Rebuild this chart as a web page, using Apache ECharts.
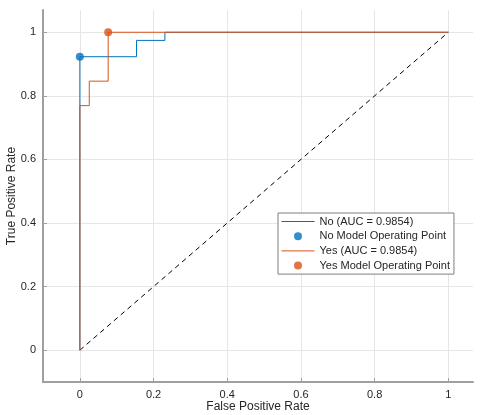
<!DOCTYPE html>
<html>
<head>
<meta charset="utf-8">
<script src="https://cdn.jsdelivr.net/npm/echarts@6/dist/echarts.min.js"></script>
<style>
  html, body { margin: 0; padding: 0; background: #fff; }
  #chart { width: 484px; height: 415px; }
</style>
</head>
<body>
<div id="chart"></div>
<script>
// ROC curve data (step points)
const noCurve = [[0, 0], [0, 0.9231], [0.1538, 0.9231], [0.1538, 0.9744], [0.2308, 0.9744], [0.2308, 1], [1, 1]];
const yesCurve = [[0, 0], [0, 0.7692], [0.0256, 0.7692], [0.0256, 0.8462], [0.0769, 0.8462], [0.0769, 1], [1, 1]];
const noPoint = [[0, 0.9231]];
const yesPoint = [[0.0769, 1]];
const chance = [[0, 0], [1, 1]];
const ticks = [0, 0.2, 0.4, 0.6, 0.8, 1];
const names = ['No (AUC = 0.9854)', 'No Model Operating Point', 'Yes (AUC = 0.9854)', 'Yes Model Operating Point'];

const BLUE = '#0072BD', ORANGE = '#D95319', TXT = '#262626';
const FONT = 'Liberation Sans, Arial, sans-serif';
const tickFmt = (v) => (Math.abs(v) < 1e-9 ? '0' : String(+v.toFixed(1)));
// stroked horizontal line for the legend (tiny corner segments keep the 33x8 box)
const LINE_ICON = 'path://M0,0L0.01,0M0,4L33,4M33,8L32.99,8';

const chart = echarts.init(document.getElementById('chart'), null, { renderer: 'canvas' });

function axis(name, extra) {
  return Object.assign({
    type: 'value', name, nameLocation: 'middle', nameMoveOverlap: false,
    nameTextStyle: { color: TXT, fontSize: 12, fontFamily: FONT },
    axisLine: { show: true, onZero: false, lineStyle: { color: '#a0a0a0', width: 2 } },
    axisTick: { show: true, inside: true, length: 4, customValues: ticks, lineStyle: { color: '#a0a0a0' } },
    axisLabel: { customValues: ticks, color: TXT, fontSize: 11, fontFamily: FONT, formatter: tickFmt, margin: 7 },
    splitLine: { show: true, lineStyle: { color: '#e6e6e6', width: 1 } },
  }, extra);
}

const lineItem = (name, c) =>
  ({ name, icon: LINE_ICON, itemStyle: { color: 'transparent', borderColor: c, borderWidth: 1 } });
const dotItem = (name, c) =>
  ({ name, icon: 'circle', itemStyle: { color: c, borderWidth: 0 } });

chart.setOption({
  animation: false,
  grid: { left: 43, right: 11, top: 10, bottom: 33, outerBoundsMode: 'none', containLabel: false },
  xAxis: axis('False Positive Rate', { min: -0.1, max: 1.067, nameGap: 19 }),
  yAxis: axis('True Positive Rate', { min: -0.1, max: 1.07, nameGap: 25 }),
  legend: {
    orient: 'vertical', left: 278, top: 213,
    data: [
      lineItem(names[0], BLUE),
      dotItem(names[1], BLUE),
      lineItem(names[2], ORANGE),
      dotItem(names[3], ORANGE),
    ],
    backgroundColor: '#fff', borderColor: '#7f7f7f', borderWidth: 1, borderRadius: 0,
    padding: [3, 4, 3, 3],
    itemWidth: 33, itemHeight: 8, itemGap: 3.7,
    textStyle: { color: TXT, fontSize: 11, fontFamily: FONT, padding: [0, 0, 0, 0] },
  },
  series: [
    { name: 'chance', type: 'line', data: chance, symbol: 'none', silent: true,
      lineStyle: { color: '#000', width: 1, type: [5, 4] }, z: 1 },
    { name: names[0], type: 'line', data: noCurve, symbol: 'none', color: BLUE,
      lineStyle: { color: BLUE, width: 1 }, z: 2 },
    { name: names[1], type: 'scatter', data: noPoint, symbol: 'circle', symbolSize: 8, color: BLUE, z: 5 },
    { name: names[2], type: 'line', data: yesCurve, symbol: 'none', color: ORANGE,
      lineStyle: { color: ORANGE, width: 1 }, z: 3 },
    { name: names[3], type: 'scatter', data: yesPoint, symbol: 'circle', symbolSize: 8, color: ORANGE, z: 5 },
  ],
});
</script>
</body>
</html>
